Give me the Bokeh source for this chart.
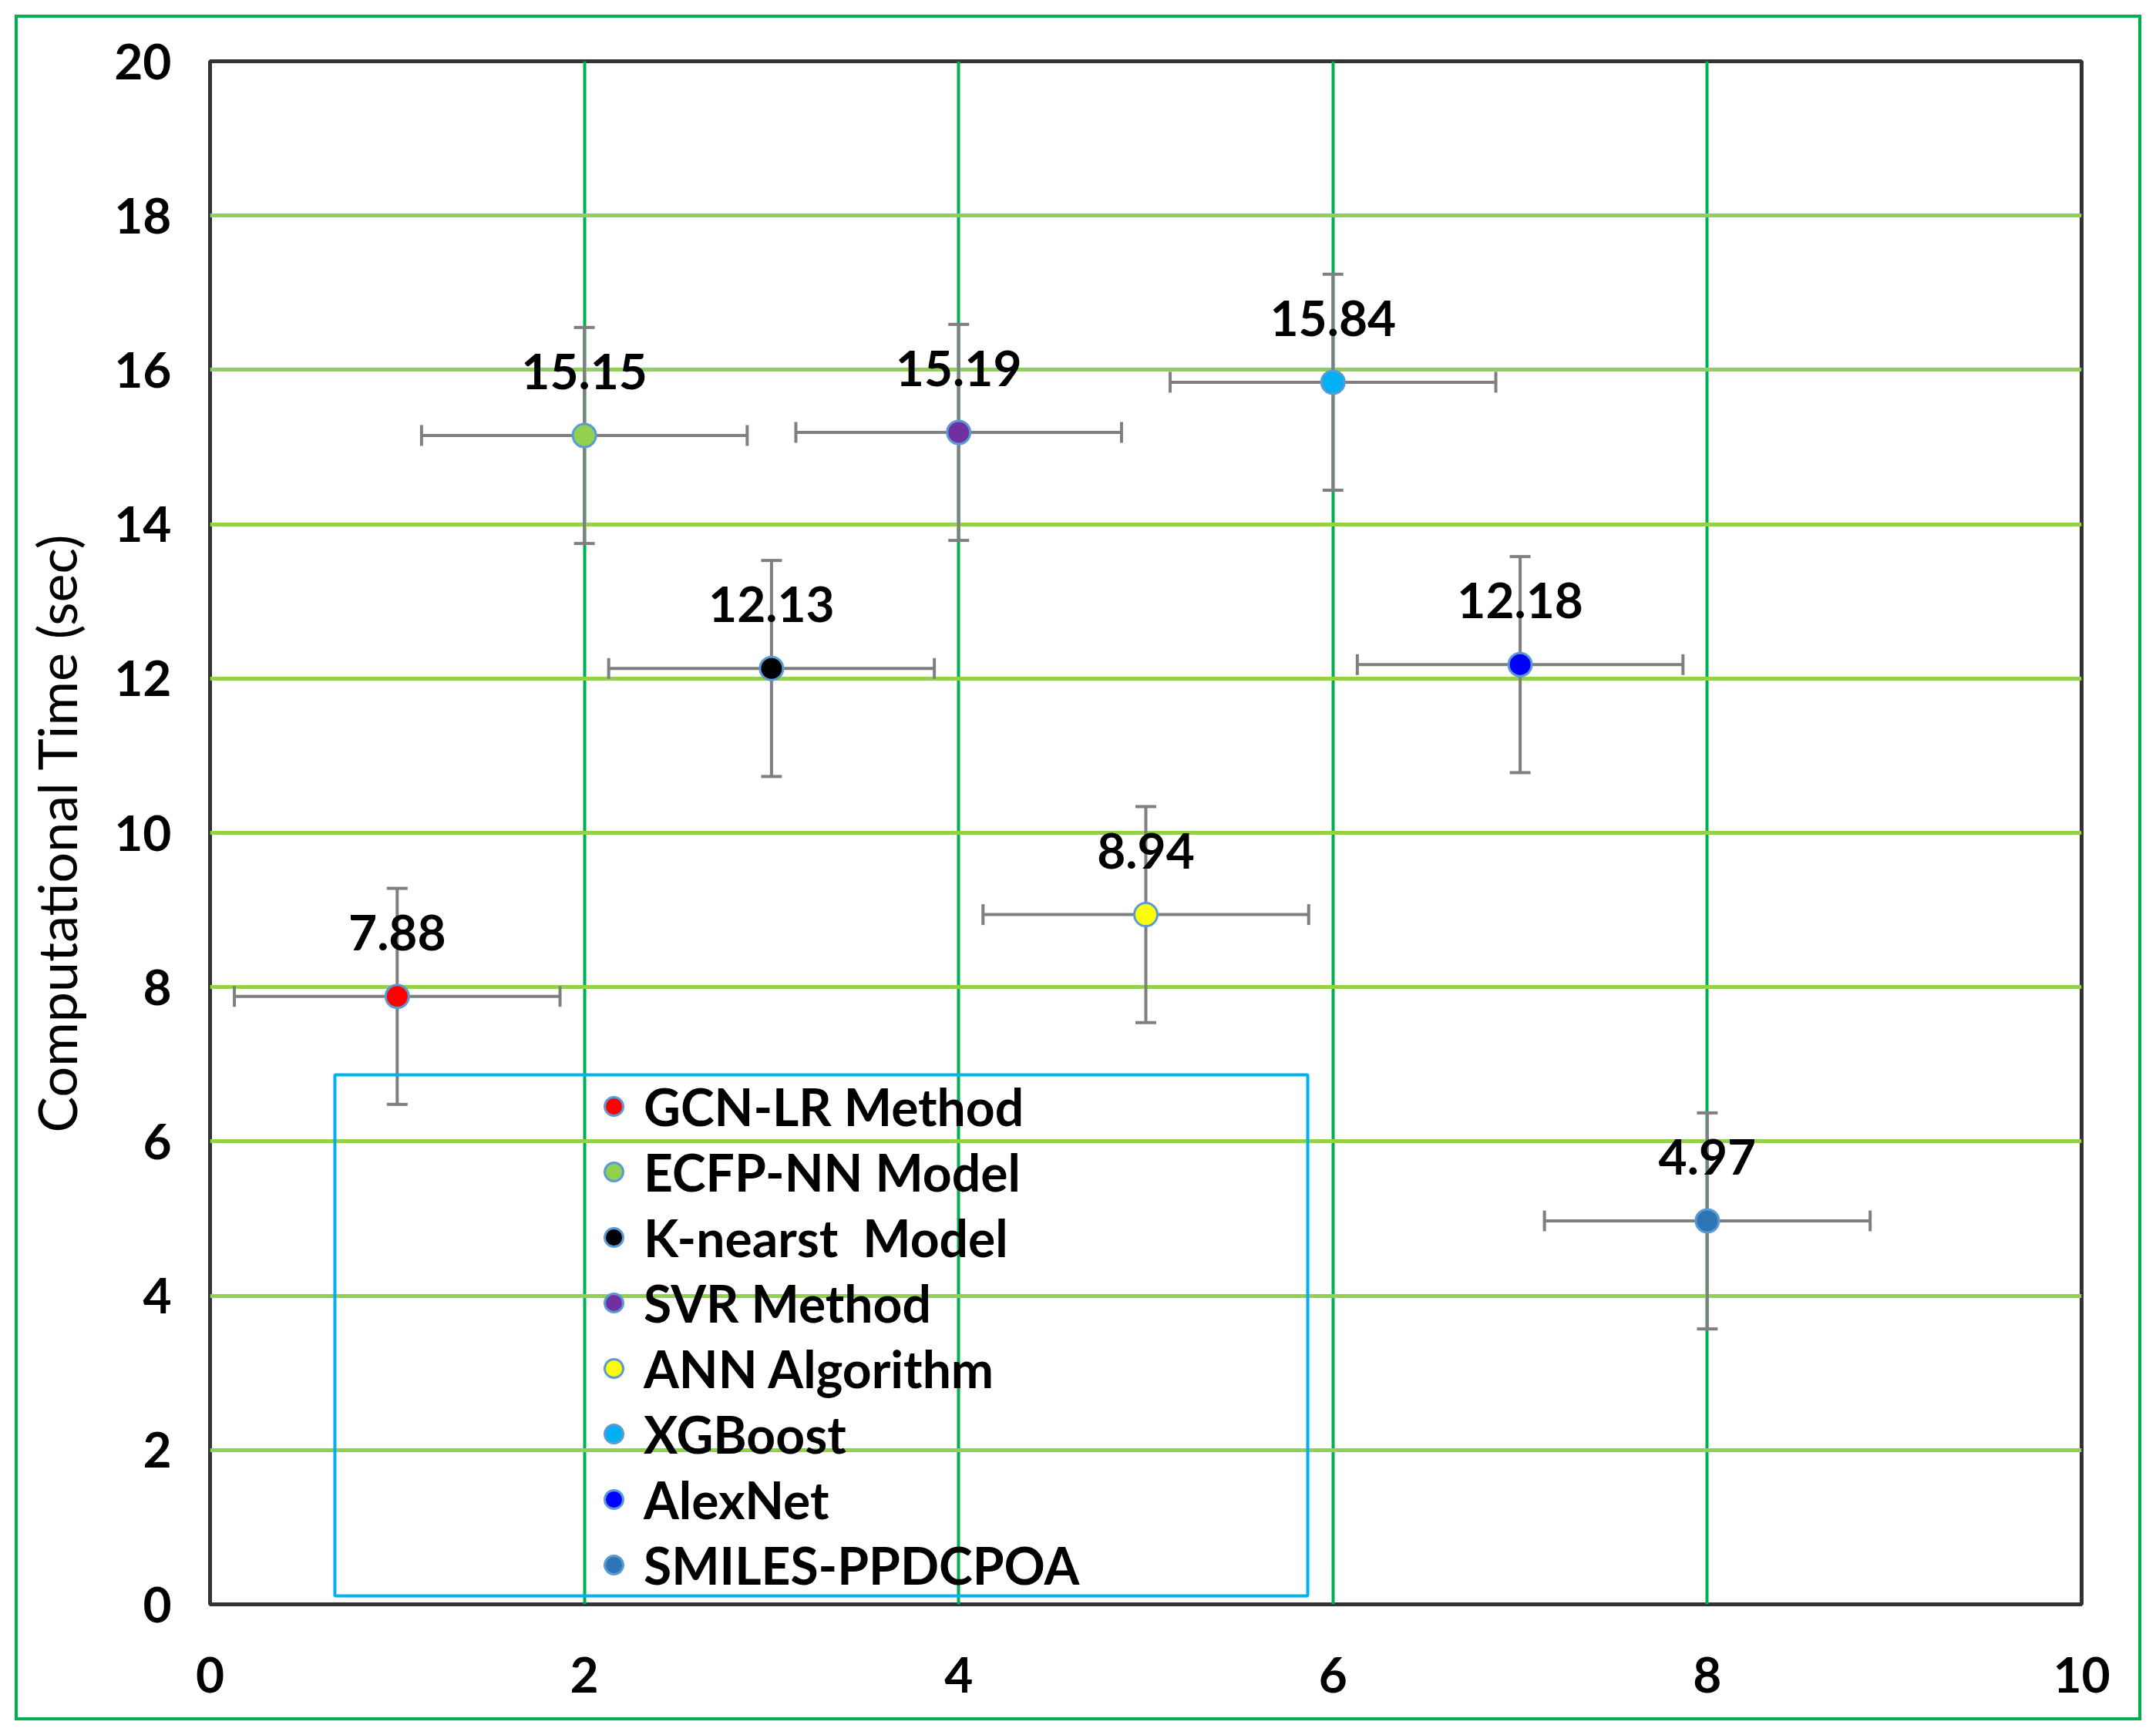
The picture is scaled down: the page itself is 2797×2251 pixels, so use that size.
from bokeh.plotting import figure
from bokeh.models import (ColumnDataSource, Whisker, TeeHead, Legend, LegendItem,
                          BoxAnnotation, FixedTicker, Range1d)
from bokeh.core.properties import value
from bokeh.embed import file_html
from bokeh.resources import INLINE

# ---------------- data ----------------
methods = ["GCN-LR Method", "ECFP-NN Model", "K-nearst  Model", "SVR Method",
           "ANN Algorithm", "XGBoost", "AlexNet", "SMILES-PPDCPOA"]
x_pos = [1, 2, 3, 4, 5, 6, 7, 8]
comp_time = [7.88, 15.15, 12.13, 15.19, 8.94, 15.84, 12.18, 4.97]
y_err = [1.4, 1.4, 1.4, 1.4, 1.4, 1.4, 1.4, 1.4]
x_err = [0.87, 0.87, 0.87, 0.87, 0.87, 0.87, 0.87, 0.87]
colors = ["#FF0000", "#92D050", "#000000", "#7030A0",
          "#FFFF00", "#00B0F0", "#0000FF", "#2E75B6"]
x_ticks = [0, 2, 4, 6, 8, 10]
y_ticks = [0, 2, 4, 6, 8, 10, 12, 14, 16, 18, 20]

# legend frame (data units)
legend_box = dict(left=0.667, right=5.865, bottom=0.11, top=6.863)

FONT = "Lato"

src = ColumnDataSource(dict(
    x=x_pos, y=comp_time,
    yl=[v - e for v, e in zip(comp_time, y_err)],
    yu=[v + e for v, e in zip(comp_time, y_err)],
    xl=[v - e for v, e in zip(x_pos, x_err)],
    xu=[v + e for v, e in zip(x_pos, x_err)],
    color=colors,
    label=[f"{v:.2f}" for v in comp_time],
))

p = figure(width=2797, height=2251, x_range=Range1d(0, 10), y_range=Range1d(0, 20),
           output_backend="svg", toolbar_location=None,
           min_border_left=272, min_border_right=97, min_border_top=79, min_border_bottom=170)
p.background_fill_color = "white"
p.border_fill_alpha = 0          # let the page show through around the frame
p.outline_line_color = "#333333"
p.outline_line_width = 5
# outer green chart border (CSS inset shadows on the figure element, seen through the
# transparent border area of the canvas)
p.styles = {"background-color": "#ffffff",
            "box-shadow": "inset 0 0 0 19px #ffffff, inset 0 0 0 23px #00B050"}

# axes
p.xaxis.ticker = FixedTicker(ticks=x_ticks)
p.yaxis.ticker = FixedTicker(ticks=y_ticks)
for ax in (p.xaxis[0], p.yaxis[0]):
    ax.axis_line_color = None
    ax.major_tick_line_color = None
    ax.minor_tick_line_color = None
    ax.major_tick_out = 0
    ax.major_tick_in = 0
    ax.minor_tick_out = 0
    ax.major_label_text_font = FONT
    ax.major_label_text_font_style = "bold"
    ax.major_label_text_font_size = "64px"
    ax.major_label_text_color = "black"
p.xaxis.major_label_standoff = 68
p.yaxis.major_label_standoff = 50
p.yaxis.axis_label = "Computational Time (sec)"
p.yaxis.axis_label_text_font = FONT
p.yaxis.axis_label_text_font_style = "normal"
p.yaxis.axis_label_text_font_size = "70px"
p.yaxis.axis_label_text_color = "black"
p.yaxis.axis_label_standoff = 30

# grids
p.xgrid.ticker = FixedTicker(ticks=x_ticks)
p.ygrid.ticker = FixedTicker(ticks=y_ticks)
p.xgrid.grid_line_color = "#00B050"
p.xgrid.grid_line_width = 4
p.ygrid.grid_line_color = "#92D050"
p.ygrid.grid_line_width = 5

# error bars
err_col = "#7F7F7F"
wy = Whisker(source=src, base="x", lower="yl", upper="yu", dimension="height",
             line_color=err_col, line_width=4,
             upper_head=TeeHead(size=27, line_color=err_col, line_width=4),
             lower_head=TeeHead(size=27, line_color=err_col, line_width=4))
wx = Whisker(source=src, base="y", lower="xl", upper="xu", dimension="width",
             line_color=err_col, line_width=4,
             upper_head=TeeHead(size=27, line_color=err_col, line_width=4),
             lower_head=TeeHead(size=27, line_color=err_col, line_width=4))
p.add_layout(wy)
p.add_layout(wx)

# points
r = p.scatter("x", "y", source=src, size=30, fill_color="color",
              line_color="#5B9BD5", line_width=3, marker="circle")

# data labels
p.text("x", "y", text="label", source=src, text_font=value(FONT), text_font_style="bold",
       text_font_size="64px", text_color="black", text_align="center",
       text_baseline="alphabetic", y_offset=-83)

# legend frame
p.add_layout(BoxAnnotation(**legend_box, fill_alpha=0, line_color="#00B0F0",
                           line_alpha=1, line_width=4))

legend = Legend(items=[LegendItem(label=m, renderers=[r], index=i) for i, m in enumerate(methods)],
                location=(494, 11), glyph_width=60, glyph_height=80, label_height=80,
                spacing=5, label_standoff=9, padding=0, margin=0,
                border_line_color=None, background_fill_alpha=0,
                label_text_font=FONT, label_text_font_size="66px",
                label_text_font_style="bold", label_text_color="black")
p.add_layout(legend, "center")

open("out.html", "w").write(file_html(p, INLINE))
